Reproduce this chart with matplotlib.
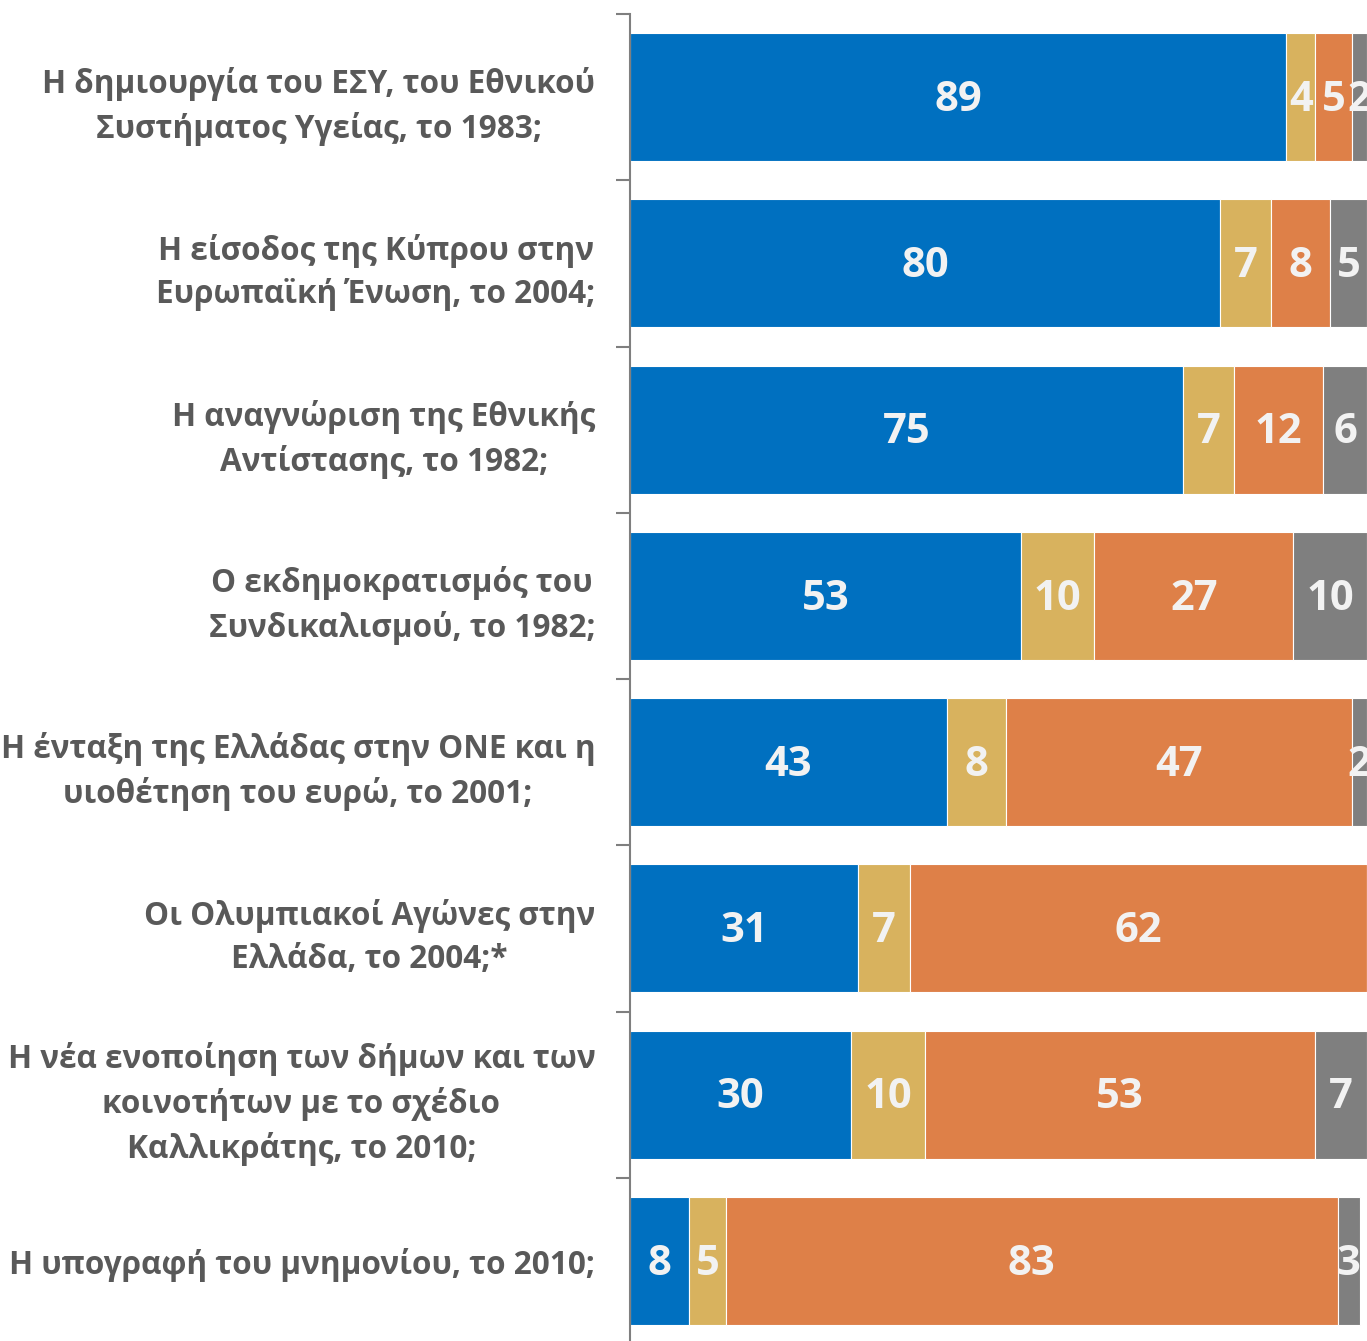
import matplotlib
matplotlib.use("Agg")
import matplotlib.pyplot as plt
import matplotlib.transforms as mtransforms
import numpy as np

categories = [
    "Η δημιουργία του ΕΣΥ, του Εθνικού\nΣυστήματος Υγείας, το 1983;",
    "Η είσοδος της Κύπρου στην\nΕυρωπαϊκή Ένωση, το 2004;",
    "Η αναγνώριση της Εθνικής\nΑντίστασης, το 1982;",
    "Ο εκδημοκρατισμός του\nΣυνδικαλισμού, το 1982;",
    "Η ένταξη της Ελλάδας στην ΟΝΕ και η\nυιοθέτηση του ευρώ, το 2001;",
    "Οι Ολυμπιακοί Αγώνες στην\nΕλλάδα, το 2004;*",
    "Η νέα ενοποίηση των δήμων και των\nκοινοτήτων με το σχέδιο\nΚαλλικράτης, το 2010;",
    "Η υπογραφή του μνημονίου, το 2010;",
]
series_blue = [89, 80, 75, 53, 43, 31, 30, 8]
series_tan = [4, 7, 7, 10, 8, 7, 10, 5]
series_orange = [5, 8, 12, 27, 47, 62, 53, 83]
series_gray = [2, 5, 6, 10, 2, 0, 7, 3]

colors = ["#0070C0", "#D8B25E", "#DE8048", "#7F7F7F"]
text_gray = "#595959"

plt.rcParams['font.family'] = ['Open Sans', 'DejaVu Sans']

W, H = 1367, 1341
fig = plt.figure(figsize=(W / 100, H / 100), dpi=100)
ax = fig.add_axes([630 / W, (H - 1344) / H, 740 / W, 1330 / H])

y = np.arange(len(categories))
left = np.zeros(len(categories))
for vals, c in zip([series_blue, series_tan, series_orange, series_gray], colors):
    vals = np.array(vals, dtype=float)
    ax.barh(y, vals, left=left, height=0.77, color=c, edgecolor="white", linewidth=0.8)
    for yi, (l, v) in enumerate(zip(left, vals)):
        if v > 0:
            ax.text(l + v / 2, yi + 0.02, f"{int(v)}", ha="center", va="center",
                    color="#F2F2F2", fontsize=30, fontweight="bold")
    left += vals

ax.set_xlim(0, 100.4)
ax.set_ylim(len(categories) - 0.5, -0.5)

ax.set_yticks(y)
ax.set_yticklabels(categories, fontsize=22.7, fontweight="bold", color=text_gray,
                   linespacing=1.42)
offset = mtransforms.ScaledTranslation(0, 5 / 100, fig.dpi_scale_trans)
for lbl in ax.get_yticklabels():
    lbl.set_multialignment("center")
    lbl.set_transform(lbl.get_transform() + offset)
ax.tick_params(axis="y", which="major", length=0, pad=25)
ax.set_yticks(np.arange(-0.5, len(categories) + 0.5, 1), minor=True)
ax.tick_params(axis="y", which="minor", length=10, width=1.5, color="#7F7F7F")
ax.set_xticks([])

for s in ["top", "right", "bottom"]:
    ax.spines[s].set_visible(False)
ax.spines["left"].set_color("#7F7F7F")
ax.spines["left"].set_linewidth(1.5)

fig.savefig("out.png", dpi=100)
